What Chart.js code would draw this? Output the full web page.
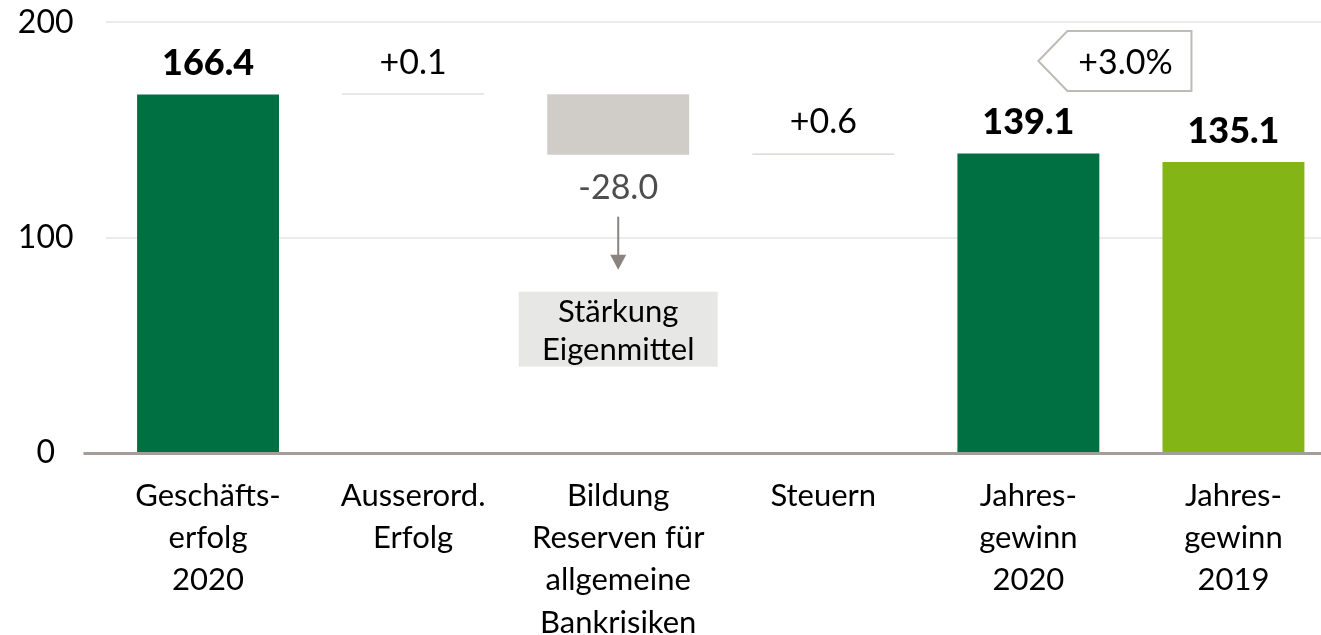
<!DOCTYPE html>
<html>
<head>
<meta charset="utf-8">
<script src="https://cdn.jsdelivr.net/npm/chart.js@4.4.1/dist/chart.umd.min.js"></script>
<style>
  html, body { margin: 0; padding: 0; background: #fff; overflow: hidden; }
  #wrap { width: 1340px; height: 664px; margin-top: -29px; }
</style>
</head>
<body>
<div id="wrap"><canvas id="my-chart"></canvas></div>
<script>
// ======== Data ========
const categories = [
    ["Geschäfts-", "erfolg", "2020"],
    ["Ausserord.", "Erfolg"],
    ["Bildung", "Reserven für", "allgemeine", "Bankrisiken"],
    ["Steuern"],
    ["Jahres-", "gewinn", "2020"],
    ["Jahres-", "gewinn", "2019"]
]
const steps = [166.4, 0.1, -28.0, 0.6]      // waterfall steps
const total2020 = 139.1
const total2019 = 135.1
const valueLabels = ["166.4", "+0.1", "-28.0", "+0.6", "139.1", "135.1"]
const yTicks = [0, 100, 200]
const growthLabel = "+3.0%"
const noteLines = ["Stärkung", "Eigenmittel"]

const FONT = "Lato, 'Open Sans', sans-serif"
const DARK_GREEN = '#006f41'
const LIGHT_GREEN = '#82b515'
const GREY = '#d0cdc8'

// build floating bars from the steps
const bars = []
let run = 0
steps.forEach((s, i) => {
    if (i === 0) { bars.push([0, s]); run = s; return }
    const next = run + s
    bars.push([Math.min(run, next), Math.max(run, next)])
    run = next
})
bars.push([0, total2020])
bars.push([0, total2019])

const colors = [DARK_GREEN, '#d4d1cd', GREY, '#d4d1cd', DARK_GREEN, LIGHT_GREEN]

// draws labels, the zero line, arrow, note box and the growth callout
const extras = {
    id: 'extras',
    afterDatasetsDraw(chart) {
        const ctx = chart.ctx
        const meta = chart.getDatasetMeta(0)
        const y = chart.scales.y
        const area = chart.chartArea
        ctx.save()

        // zero line
        ctx.strokeStyle = '#a39e99'
        ctx.lineWidth = 3
        ctx.beginPath()
        ctx.moveTo(area.left - 22, y.getPixelForValue(0) + 0.5)
        ctx.lineTo(area.right, y.getPixelForValue(0) + 0.5)
        ctx.stroke()

        // value labels
        ctx.textAlign = 'center'
        ctx.textBaseline = 'middle'
        meta.data.forEach((bar, i) => {
            const bold = (i === 0 || i >= 4)
            ctx.font = (bold ? '900 36px ' : '400 34px ') + FONT
            if (steps[i] !== undefined && steps[i] < 0) {
                ctx.fillStyle = '#4d4d4d'
                ctx.fillText(valueLabels[i], bar.x, Math.max(bar.y, bar.base) + 33)
            } else {
                ctx.fillStyle = '#000'
                ctx.fillText(valueLabels[i], bar.x, Math.min(bar.y, bar.base) - 31)
            }
        })

        // arrow under the reserves bar
        const rb = meta.data[2]
        const bottom = Math.max(rb.y, rb.base)
        ctx.strokeStyle = '#8b847e'
        ctx.fillStyle = '#8b847e'
        ctx.lineWidth = 2
        ctx.beginPath()
        ctx.moveTo(rb.x, bottom + 62)
        ctx.lineTo(rb.x, bottom + 102)
        ctx.stroke()
        ctx.beginPath()
        ctx.moveTo(rb.x - 8, bottom + 100)
        ctx.lineTo(rb.x + 8, bottom + 100)
        ctx.lineTo(rb.x, bottom + 115)
        ctx.closePath()
        ctx.fill()

        // note box
        const bw = 199, bh = 75, btop = bottom + 137
        ctx.fillStyle = '#e7e8e6'
        ctx.fillRect(rb.x - bw / 2, btop, bw, bh)
        ctx.fillStyle = '#000'
        ctx.font = '400 31px ' + FONT
        ctx.fillText(noteLines[0], rb.x, btop + 20)
        ctx.fillText(noteLines[1], rb.x, btop + 58)

        // growth callout (points from 2019 to 2020)
        const b4 = meta.data[4], b5 = meta.data[5]
        const cy = y.getPixelForValue(182)
        const tipX = b4.x + 10, flatX = tipX + 29, rightX = b5.x - 42
        ctx.strokeStyle = '#bfbab5'
        ctx.lineWidth = 2
        ctx.fillStyle = '#fff'
        ctx.beginPath()
        ctx.moveTo(tipX, cy)
        ctx.lineTo(flatX, cy - 30)
        ctx.lineTo(rightX, cy - 30)
        ctx.lineTo(rightX, cy + 30)
        ctx.lineTo(flatX, cy + 30)
        ctx.closePath()
        ctx.fill()
        ctx.stroke()
        ctx.fillStyle = '#000'
        ctx.font = '400 34px ' + FONT
        ctx.fillText(growthLabel, (flatX + rightX) / 2 - 4, cy + 2)

        ctx.restore()
    }
}

new Chart(document.getElementById('my-chart'), {
    type: 'bar',
    data: {
        labels: categories,
        datasets: [{
            data: bars,
            backgroundColor: colors,
            borderWidth: 0,
            minBarLength: 1,
            barPercentage: 1,
            categoryPercentage: 0.692
        }]
    },
    options: {
        responsive: true,
        maintainAspectRatio: false,
        animation: false,
        layout: { padding: { top: 0, right: 4, left: 0, bottom: 0 } },
        plugins: {
            legend: { display: false },
            tooltip: { enabled: false }
        },
        scales: {
            x: {
                grid: { display: false },
                border: { display: false },
                ticks: {
                    color: '#000',
                    font: { family: FONT, size: 31, lineHeight: 1.36 },
                    padding: 14,
                    maxRotation: 0,
                    autoSkip: false
                },
                afterFit: (scale) => { scale.height = 182 }
            },
            y: {
                min: 0,
                max: 200,
                afterBuildTicks: (scale) => { scale.ticks = yTicks.map(v => ({ value: v })) },
                grid: {
                    color: (c) => c.tick && c.tick.value === 0 ? 'rgba(0,0,0,0)' : '#ebebeb',
                    lineWidth: 2,
                    drawTicks: false
                },
                border: { display: false },
                ticks: {
                    color: '#000',
                    font: { family: FONT, size: 32 },
                    crossAlign: 'center',
                    padding: 32
                },
                afterFit: (scale) => { scale.width = 105.5 }
            }
        }
    },
    plugins: [extras]
})
</script>
</body>
</html>
